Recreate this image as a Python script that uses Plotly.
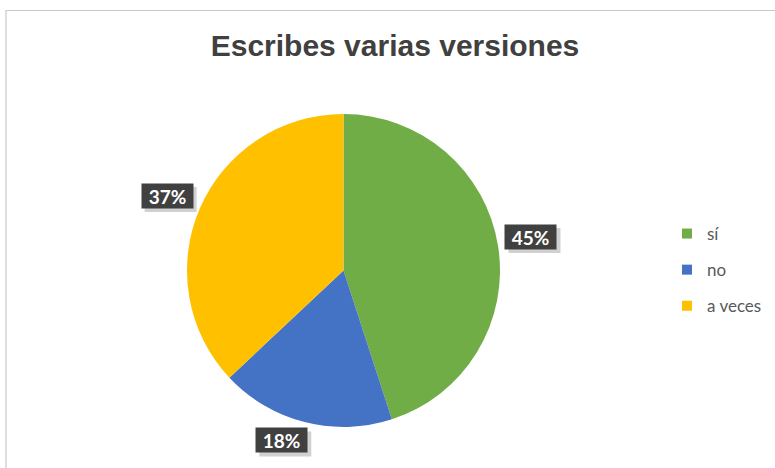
import math
import plotly.graph_objects as go

# ---- data ----
categories = ["sí", "no", "a veces"]
values = [45, 18, 37]
colors = ["#70AD47", "#4472C4", "#FFC000"]
title_text = "Escribes varias versiones"

# ---- layout / style constants ----
W, H = 775, 468
cx, cy, R = 343.5, 270.5, 156.5  # pie centre/radius in px (from top-left)
label_factor = 1.2
label_nudge = {"sí": (2, -4), "no": (-15, -12), "a veces": (-4, 0)}  # px
box_w, box_h = 51, 24

fig = go.Figure()

fig.add_trace(go.Pie(
    labels=categories, values=values, sort=False, direction="clockwise",
    rotation=0, marker=dict(colors=colors, line=dict(width=0)),
    textinfo="none", hoverinfo="label+percent", showlegend=False,
    domain=dict(x=[(cx - R) / W, (cx + R) / W],
                y=[(H - cy - R) / H, (H - cy + R) / H]),
))

# legend via dummy traces (to get Excel-like item spacing)
for i, (c, col) in enumerate(zip(categories, colors)):
    fig.add_trace(go.Scatter(
        x=[None], y=[None], mode="markers", name=c, legendgroup=f"g{i}",
        marker=dict(symbol="square", size=10, color=col), showlegend=True,
    ))

# data labels computed from values
total = sum(values)
cum = 0
for cat, v in zip(categories, values):
    mid = (cum + v / 2) / total * 2 * math.pi
    cum += v
    nx, ny = label_nudge[cat]
    px = cx + label_factor * R * math.sin(mid) + nx
    py = cy - label_factor * R * math.cos(mid) + ny
    xp, yp = px / W, (H - py) / H
    # shadow
    fig.add_shape(type="rect", xref="paper", yref="paper",
                  xsizemode="pixel", ysizemode="pixel", xanchor=xp, yanchor=yp,
                  x0=-box_w / 2 + 3, x1=box_w / 2 + 4, y0=-box_h / 2 - 4, y1=box_h / 2 - 3,
                  fillcolor="rgba(0,0,0,0.18)", line=dict(width=0))
    fig.add_annotation(text=f"<b>{round(v / total * 100)}%</b>", bgcolor="#404040",
                       x=xp, y=yp, xref="paper", yref="paper",
                       showarrow=False, xanchor="center", yanchor="middle",
                       width=box_w - 4, height=box_h - 4, borderpad=2,
                       font=dict(family="Lato", size=19, color="white"))

# chart border (Excel chart area)
fig.add_shape(type="rect", xref="paper", yref="paper",
              x0=6 / W, x1=1.05, y0=-0.05, y1=(H - 10.5) / H,
              line=dict(color="#C8C8C8", width=1.2), fillcolor="rgba(0,0,0,0)",
              layer="below")

fig.update_layout(
    width=W, height=H,
    margin=dict(l=0, r=0, t=0, b=0),
    paper_bgcolor="white", plot_bgcolor="white",
    title=dict(text=f"<b>{title_text}</b>", x=395 / W, xanchor="center",
               y=(H - 45) / H, yanchor="middle",
               font=dict(family="Liberation Sans, Arial", size=30, color="#404040")),
    xaxis=dict(visible=False), yaxis=dict(visible=False),
    legend=dict(x=667 / W, y=(H - 216) / H, xanchor="left", yanchor="top",
                traceorder="grouped", tracegroupgap=11,
                font=dict(family="Lato", size=17, color="#595959"),
                bgcolor="rgba(0,0,0,0)"),
    showlegend=True,
)

fig.write_html("out.html")
